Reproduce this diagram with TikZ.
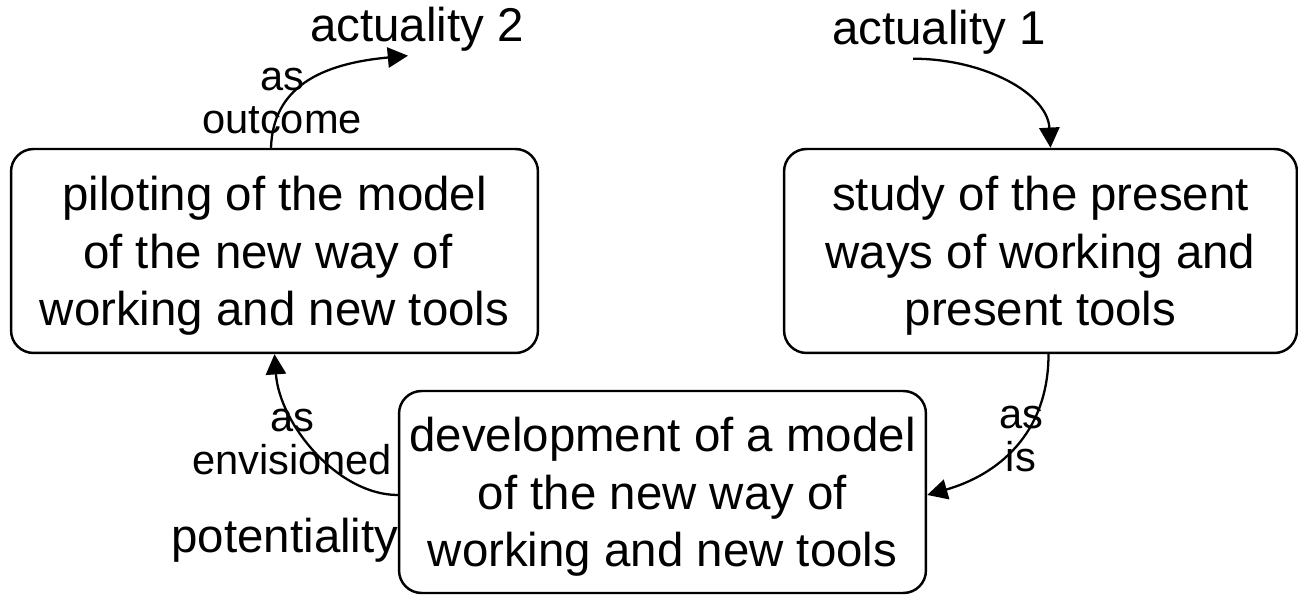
\documentclass[tikz,border=0pt]{standalone}
\usepackage{fontspec}
\setmainfont{Liberation Sans}
\usetikzlibrary{arrows.meta}

\newcommand{\topgap}{\rule{0pt}{25pt}}

\begin{document}
\begin{tikzpicture}[x=0.02cm, y=0.02cm,
  stage/.style={draw, line width=1.4pt, rounded corners=0.45cm, align=center,
    inner sep=2pt, font=\fontsize{27}{32.5}\selectfont},
  mode/.style={inner sep=2pt, font=\fontsize{27}{32}\selectfont},
  tag/.style={inner sep=0pt, align=center, font=\fontsize{23.7}{25}\selectfont},
  flow/.style={line width=1.3pt, -{Triangle[length=11.5pt, width=11.5pt]}}]

\useasboundingbox (0,0) rectangle (1298,595);

\node[stage, minimum width=10.54cm, minimum height=4.08cm] (pilot) at (274.5,344) {\topgap piloting of the model\\of the new way of\rule{0.28em}{0pt}\\working and new tools};
\node[stage, minimum width=10.26cm, minimum height=4.08cm] (study) at (1040.5,344) {\topgap study of the present\\ways of working and\\present tools};
\node[stage, minimum width=10.54cm, minimum height=4.04cm] (devel) at (662.5,103) {\topgap development of a model\\of the new way of\\working and new tools};

\node[mode, anchor=base] (act2) at (417,553) {actuality 2};
\node[mode, anchor=base] (act1) at (939,550) {actuality 1};
\node[mode, anchor=base] (pot) at (285,43) {potentiality};

\node[tag] (outc) at (282,494) {as\\outcome};
\node[tag] (envis) at (292,153) {as\\envisioned};
\node[tag] (asis) at (1021,156) {as\\is};

% cycle
\draw[flow] ([xshift=-0.07cm]pilot.north) .. controls +(2,60) and +(-88,-8) .. ([xshift=-0.18cm]act2.south);
\draw[flow] ([xshift=-0.52cm]act1.south) .. controls +(70,0) and +(-3,55) .. ([xshift=0.2cm]study.north);
\draw[flow] ([xshift=0.16cm]study.south) .. controls +(0,-80) and +(70,20) .. ([yshift=-0.06cm]devel.east);
\draw[flow] ([yshift=-0.06cm]devel.west) .. controls +(-60,0) and +(5,-70) .. (pilot.south);

\end{tikzpicture}
\end{document}
